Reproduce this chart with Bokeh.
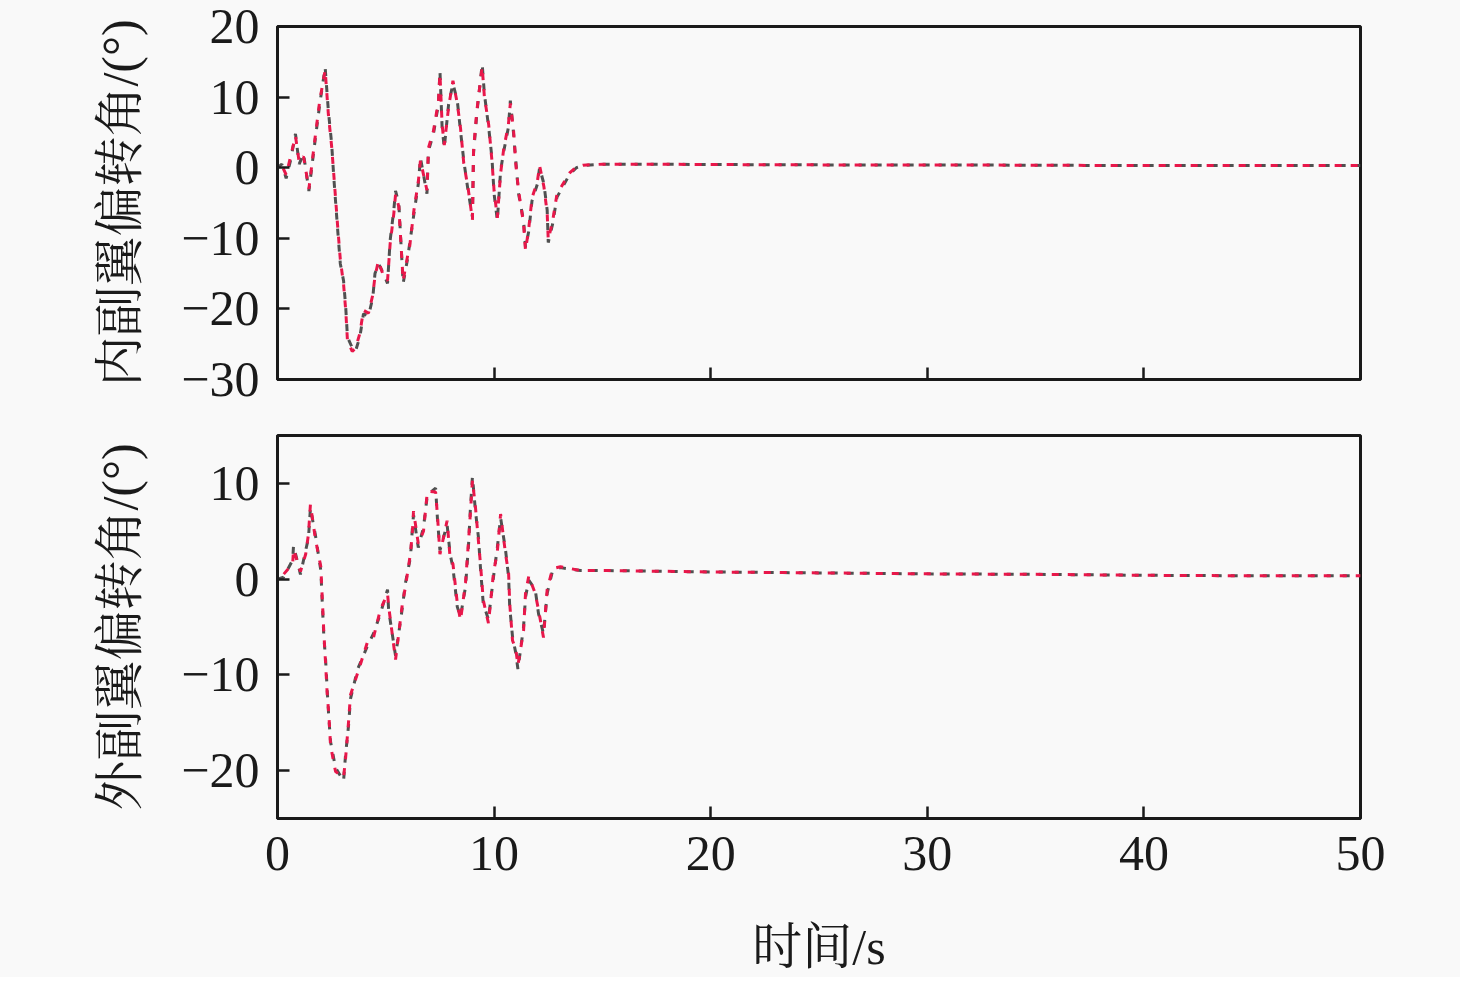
from bokeh.plotting import figure
from bokeh.layouts import column
from bokeh.models import FixedTicker, Range1d
from bokeh.embed import file_html
from bokeh.resources import INLINE

# ---------------- data ----------------
x_ticks = [0, 10, 20, 30, 40, 50]
top_ticks = [-30, -20, -10, 0, 10, 20]
bot_ticks = [-20, -10, 0, 10]

t_inner = [0, 0.2, 0.4, 0.6, 0.83, 1.0, 1.2, 1.45, 1.6, 1.75, 1.95, 2.2, 2.35, 2.5, 2.6,
           2.77, 2.9, 3.05, 3.15, 3.23, 3.45, 3.6, 3.8, 3.97, 4.2, 4.4, 4.5, 4.66, 4.9, 5.08,
           5.2, 5.37, 5.45, 5.6, 5.8, 6.0, 6.1, 6.3, 6.5, 6.6, 6.9, 6.97, 7.2, 7.43, 7.5,
           7.6, 7.7, 7.9, 8.1, 8.3, 8.45, 8.6, 8.8, 9.0, 9.05, 9.2, 9.45, 9.55, 9.75, 9.9,
           10.0, 10.15, 10.3, 10.45, 10.66, 10.75, 10.9, 11.0, 11.13, 11.36, 11.45, 11.6, 11.75, 12.0, 12.1,
           12.3, 12.45, 12.5, 12.7, 12.9, 13.2, 13.5, 13.8, 14.1, 15, 17, 20, 25, 30,
           35, 40, 45, 50]
inner_gray = [0, 0.5, -1.5, 1, 4.8, 0.5, 2, -3.3, 0.5, 4.2, 9, 14.2, 8, 3.4, -1.4,
              -8.5, -13.6, -16, -19.8, -24, -25.5, -26, -24, -20.7, -21, -18.4, -15, -13.6, -15, -16.4,
              -10.3, -6, -3.3, -5, -16.4, -13, -10.8, -6.5, -2.3, 1.4, -3.7, 2.4, 4.8, 9, 13.7,
              5.7, 2.8, 9, 11.9, 9.5, 5.2, 1, -3.3, -7, 2, 7.6, 14.7, 10.5, 5.7, 1.4,
              -3.7, -7.5, -0.4, 2.4, 5.7, 9.5, 4.8, 1, -3.7, -7.5, -11.3, -9, -4.7, -2.3, 0,
              -2.3, -6, -10.6, -8, -4.2, -2.5, -0.9, 0, 0.3, 0.5, 0.5, 0.45, 0.4, 0.4,
              0.35, 0.3, 0.3, 0.3]
inner_red = [0, 0.3, -1.0, 1.5, 4.5, 0.8, 1.6, -3.0, 0.8, 4.6, 9.5, 13.8, 7.5, 3.0, -1.0,
             -8.0, -13.0, -16.5, -20.2, -24.5, -26.0, -25.6, -23.5, -20.2, -20.6, -18.0, -15.4, -13.2, -15.4, -16.0,
             -10.8, -6.5, -3.8, -5.5, -16.0, -12.6, -11.2, -6.0, -2.0, 1.0, -3.2, 2.8, 5.2, 9.4, 13.3,
             6.1, 3.2, 8.6, 12.3, 9.1, 5.6, 0.6, -2.9, -7.4, 2.4, 8.0, 14.3, 10.1, 6.1, 1.0,
             -3.3, -7.1, -0.8, 2.8, 6.1, 9.1, 5.2, 0.6, -3.3, -7.9, -11.7, -8.6, -4.3, -1.9, 0.3,
             -2.7, -6.4, -10.2, -7.6, -3.8, -2.2, -0.7, 0.1, 0.35, 0.5, 0.5, 0.45, 0.4, 0.4,
             0.35, 0.3, 0.3, 0.3]

t_outer = [0, 0.28, 0.7, 0.74, 1.06, 1.3, 1.43, 1.52, 1.75, 2.0, 2.07, 2.14, 2.22, 2.3, 2.37,
           2.45, 2.68, 3.05, 3.14, 3.28, 3.37, 3.7, 4.15, 4.43, 4.75, 5.08, 5.13, 5.45, 5.77, 5.9,
           6.14, 6.23, 6.28, 6.5, 6.74, 6.92, 7.3, 7.39, 7.5, 7.83, 7.97, 8.1, 8.3, 8.45, 8.68,
           8.82, 8.9, 9.0, 9.14, 9.28, 9.37, 9.5, 9.74, 9.97, 10.15, 10.3, 10.53, 10.67, 10.72, 10.85,
           11.0, 11.1, 11.36, 11.45, 11.6, 11.9, 12.05, 12.28, 12.45, 12.7, 13.06, 13.99, 15, 20, 25,
           30, 35, 40, 45, 50]
outer_gray = [0, 0.2, 2, 3.5, 0.5, 3, 4.3, 7.4, 4.6, 0.9, -2.6, -6, -8.4, -11.8, -14.5,
              -17, -19.7, -21.1, -18.4, -15.3, -12.5, -9.4, -7, -5.7, -3.6, -1.1, -3.2, -8, -2.9, -0.5,
              2.3, 5.4, 6.7, 3.3, 5.4, 8.8, 9.5, 6.1, 3, 5.7, 2.6, 1.2, -2.9, -3.9, -0.8,
              3.6, 7.1, 10.7, 7.1, 4.3, 1.2, -2.6, -4.2, 0.2, 3.3, 6.4, 3, 0.2, -2.9, -6,
              -7.7, -9.4, -5, -1.9, -0.1, -1.1, -3.6, -5.7, -1.5, 0.9, 1.2, 0.9, 0.9, 0.75, 0.65,
              0.55, 0.5, 0.4, 0.35, 0.35]
outer_red = [0, 0.5, 1.6, 3.1, 0.8, 2.6, 4.7, 7.8, 4.2, 1.3, -2.2, -5.6, -8.8, -12.2, -14.1,
             -17.4, -20.1, -20.7, -18.8, -14.9, -12.1, -9.8, -6.6, -6.1, -3.2, -1.5, -2.8, -8.4, -2.5, -0.9,
             2.7, 5.0, 7.1, 3.7, 5.0, 9.2, 9.1, 6.5, 2.6, 6.1, 2.2, 1.6, -2.5, -4.3, -0.4,
             4.0, 6.7, 10.3, 7.5, 3.9, 1.6, -2.2, -4.6, 0.6, 2.9, 6.8, 2.6, 0.6, -2.5, -6.4,
             -7.3, -9.0, -5.4, -1.5, 0.3, -1.5, -3.2, -6.1, -1.1, 1.1, 1.3, 0.9, 0.9, 0.75, 0.65,
             0.55, 0.5, 0.4, 0.35, 0.35]

ylabel_top = "内副翼偏转角/(°)"
ylabel_bot = "外副翼偏转角/(°)"
xlabel = "时间/s"

assert len(t_inner) == len(inner_gray) == len(inner_red)
assert len(t_outer) == len(outer_gray) == len(outer_red)

# ---------------- style ----------------
BG = "#f9f9f9"
SERIF = "Liberation Serif, Noto Serif CJK SC, Noto Sans CJK SC"
W = 1460
GRAY = "#505050"
RED = "#e8174a"


def minus(v):
    return ("\u2212" + str(abs(v))) if v < 0 else str(v)


def style(p, yticks, show_x):
    p.background_fill_color = BG
    p.border_fill_color = BG
    p.outline_line_color = "#1a1a1a"
    p.outline_line_width = 3
    p.grid.visible = False
    for ax in (p.xaxis[0], p.yaxis[0]):
        ax.axis_line_width = 3
        ax.axis_line_color = "#1a1a1a"
        ax.major_tick_in = 12
        ax.major_tick_out = 0
        ax.major_tick_line_width = 2.5
        ax.major_tick_line_color = "#1a1a1a"
        ax.minor_tick_line_color = None
        ax.major_label_text_font = SERIF
        ax.major_label_text_font_size = "50px"
        ax.major_label_text_color = "#1a1a1a"
        ax.major_label_standoff = 18
        ax.axis_label_text_font = SERIF
        ax.axis_label_text_font_size = "50px"
        ax.axis_label_text_font_style = "normal"
        ax.axis_label_text_color = "#1a1a1a"
    p.yaxis[0].ticker = FixedTicker(ticks=yticks)
    p.yaxis[0].major_label_overrides = {v: minus(v) for v in yticks}
    p.yaxis[0].axis_label_standoff = 30
    p.xaxis[0].ticker = FixedTicker(ticks=x_ticks)
    if not show_x:
        p.xaxis[0].major_label_text_color = None
        p.xaxis[0].major_label_overrides = {v: "" for v in x_ticks}
        p.xaxis[0].major_label_standoff = 0
    else:
        p.xaxis[0].major_label_overrides = {v: str(v) for v in x_ticks}
        p.xaxis[0].axis_label = xlabel
        p.xaxis[0].axis_label_standoff = 46


def draw(p, t, g, r):
    p.line(t, g, line_color=GRAY, line_width=3, line_dash="7 9")
    p.line(t, r, line_color=RED, line_width=3, line_dash="7 9", line_dash_offset=8)


p1 = figure(width=W, height=407, output_backend="svg", toolbar_location=None,
            x_range=Range1d(0, 50), y_range=Range1d(-30, 20),
            min_border_left=277, min_border_right=100, min_border_top=26, min_border_bottom=28)
p1.yaxis.axis_label = ylabel_top
style(p1, top_ticks, False)
draw(p1, t_inner, inner_gray, inner_red)

p2 = figure(width=W, height=570, output_backend="svg", toolbar_location=None,
            x_range=Range1d(0, 50), y_range=Range1d(-25, 15),
            min_border_left=277, min_border_right=100, min_border_top=28, min_border_bottom=151)
p2.yaxis.axis_label = ylabel_bot
style(p2, bot_ticks, True)
draw(p2, t_outer, outer_gray, outer_red)

layout = column(p1, p2, styles={"background-color": BG})
open("out.html", "w").write(file_html(layout, INLINE))
